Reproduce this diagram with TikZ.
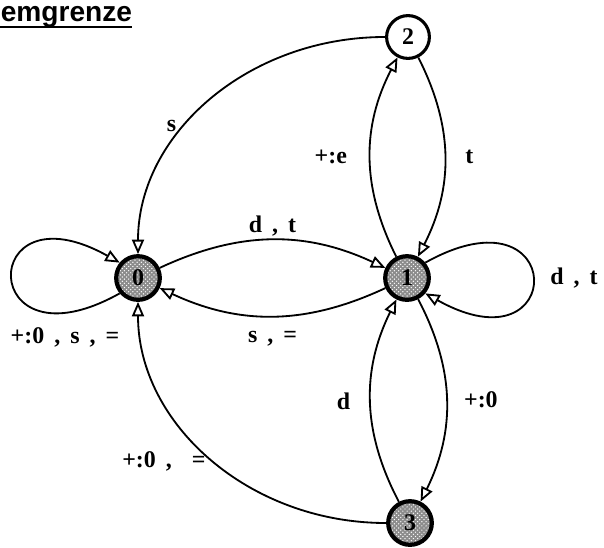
\documentclass[tikz,border=0pt]{standalone}
\usepackage{fontspec}
\setmainfont{Liberation Serif}
\setsansfont{Liberation Sans}
\usetikzlibrary{arrows.meta,patterns}
\newcommand\lblfont{\fontsize{17}{20}\selectfont\bfseries\spaceskip=0.42em\relax}
\tikzset{state/.style={circle,draw,line width=3pt,minimum size=1.09cm,inner sep=0pt,
 font=\fontsize{17}{20}\selectfont\bfseries,preaction={fill=black!45},pattern=crosshatch dots,pattern color=white},
 whitestate/.style={circle,draw,line width=2.2pt,minimum size=1.07cm,inner sep=0pt,
 font=\fontsize{17}{20}\selectfont\bfseries,fill=white},
 arr/.style={-{Triangle[open,length=3.6mm,width=3mm]},line width=1.3pt},
 lbl/.style={font=\lblfont,inner sep=2pt}}

\begin{document}
\begin{tikzpicture}[x=0.025cm,y=-0.025cm]
\useasboundingbox (0,0) rectangle (604,547);
\node[anchor=base west,inner sep=0pt,font=\sffamily\bfseries\fontsize{20}{24}\selectfont] (title) at (0.5,21) {emgrenze};
\draw[line width=1.4pt] (title.south west) -- (title.south east);
% states
\node[state] (n0) at (138,278) {0};
\node[state] (n1) at (407,278) {1};
\node[whitestate] (n2) at (408,37) {2};
\node[state] (n3) at (410,523) {3};
% transitions
\draw[arr] (n0) to[bend left=25] node[lbl,above] {d , t} (n1);
\draw[arr] (n1) to[bend left=25] node[lbl,below=8pt] {s , =} (n0);
\draw[arr] (n1) to[bend left=27] node[lbl,left=14pt] {+:e} (n2);
\draw[arr] (n2) to[bend left=27] node[lbl,right=12pt] {t} (n1);
\draw[arr] (n3) to[bend left=27] node[lbl,left=12pt] {d} (n1);
\draw[arr] (n1) to[bend left=27] node[lbl,right=10pt] {+:0} (n3);
\draw[arr] (n2) .. controls (248,37) and (138,134) .. node[lbl,pos=0.6,left=4pt] {s} (n0);
\draw[arr] (n3) .. controls (249,523) and (138,424) .. node[lbl,pos=0.5,left=1pt,yshift=-2pt] {+:0 ,\ \ =} (n0);
% loops
\draw[arr] (n0.220) .. controls +(-143,80) and +(-143,-80) .. node[lbl,pos=0.15,below=8pt] {+:0 , s , =} (n0.140);
\draw[arr] (n1.40) .. controls +(143,-80) and +(143,80) .. node[lbl,right=10pt] {d , t} (n1.-40);
\end{tikzpicture}
\end{document}
